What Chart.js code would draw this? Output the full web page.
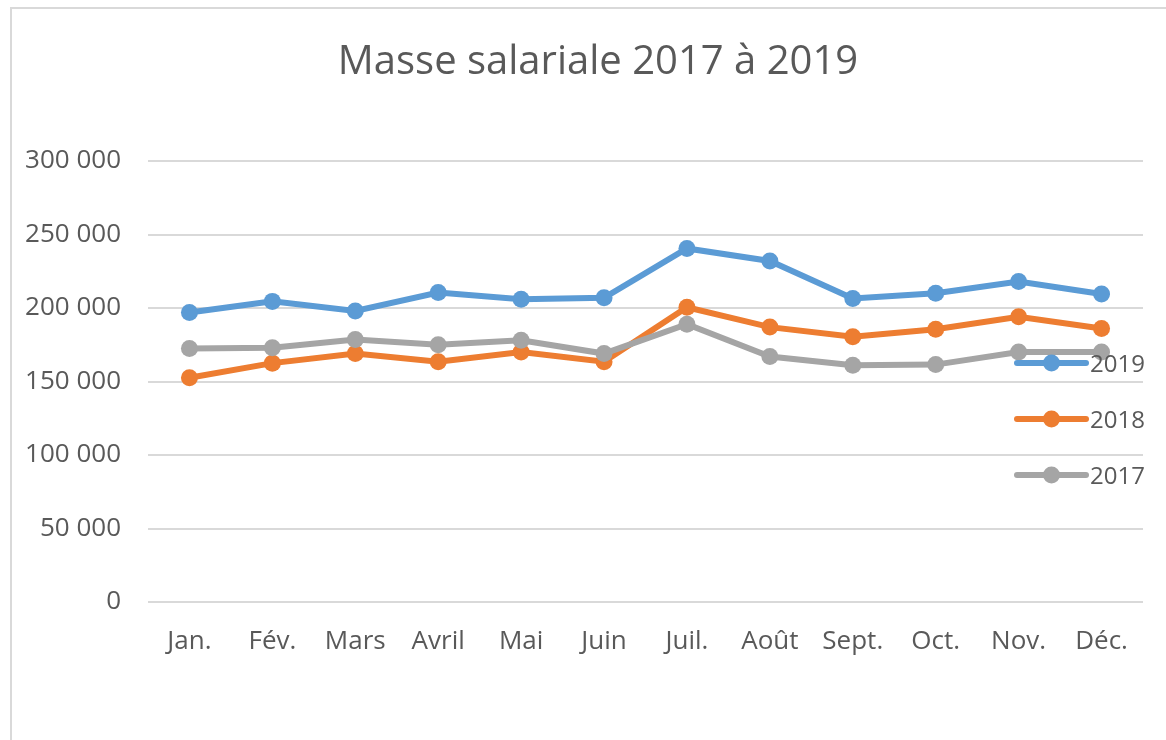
<!DOCTYPE html>
<html lang="fr">
<head>
<meta charset="utf-8">
<title>Masse salariale 2017 à 2019</title>
<script src="https://cdn.jsdelivr.net/npm/chart.js@4/dist/chart.umd.min.js"></script>
<style>
  html, body { margin: 0; padding: 0; background: #fff; overflow: hidden; }
  #frame {
    position: absolute;
    left: 10px;
    top: 7px;
    width: 1172px;
    height: 800px;
    border: 2px solid #d9d9d9;
    background: #fff;
  }
  #salaryChart { display: block; }
</style>
</head>
<body>
<div id="frame">
  <canvas id="salaryChart" width="1172" height="731"></canvas>
</div>
<script>
const months = ["Jan.", "Fév.", "Mars", "Avril", "Mai", "Juin", "Juil.", "Août", "Sept.", "Oct.", "Nov.", "Déc."];
const seriesLabels = ["2019", "2018", "2017"];

const values2019 = [197000, 204500, 198000, 210500, 206000, 207000, 240500, 232000, 206500, 210000, 218000, 209500];
const values2018 = [152500, 162500, 169000, 163500, 170000, 163500, 200500, 187000, 180500, 185500, 194000, 186000];
const values2017 = [172500, 173000, 178500, 175000, 178000, 169000, 189000, 167000, 161000, 161500, 170000, 170000];

const yTicks = [0, 50000, 100000, 150000, 200000, 250000, 300000];

const textColor = "#595959";
const fontFamily = "'Open Sans', 'Noto Sans', sans-serif";

// thousands with a space, like "150 000"
function formatNumber(v) {
  return String(v).replace(/\B(?=(\d{3})+(?!\d))/g, " ");
}

// legend drawn inside the plot, line + marker like the original
const lineLegend = {
  id: "lineLegend",
  afterDraw(chart) {
    const ctx = chart.ctx;
    const area = chart.chartArea;
    const x0 = area.right - 126;
    const x1 = area.right - 57;
    const firstY = area.top + 202;
    const step = 56;

    ctx.save();
    chart.data.datasets.forEach((ds, i) => {
      const y = firstY + i * step;
      ctx.strokeStyle = ds.borderColor;
      ctx.lineWidth = ds.borderWidth;
      ctx.lineCap = "round";
      ctx.beginPath();
      ctx.moveTo(x0, y);
      ctx.lineTo(x1, y);
      ctx.stroke();

      ctx.fillStyle = ds.pointBackgroundColor;
      ctx.beginPath();
      ctx.arc((x0 + x1) / 2, y, ds.pointRadius, 0, Math.PI * 2);
      ctx.fill();

      ctx.fillStyle = textColor;
      ctx.font = "24px " + fontFamily;
      ctx.textAlign = "left";
      ctx.textBaseline = "middle";
      ctx.fillText(ds.label, x1 + 4, y + 2);
    });
    ctx.restore();
  },
};

function makeDataset(label, data, color, order) {
  return {
    label: label,
    data: data,
    yAxisID: "y",
    borderColor: color,
    backgroundColor: color,
    pointBackgroundColor: color,
    pointBorderWidth: 0,
    pointRadius: 8.5,
    pointHoverRadius: 8.5,
    borderWidth: 6,
    tension: 0,
    order: order,
  };
}

const ctx = document.getElementById("salaryChart").getContext("2d");

new Chart(ctx, {
  type: "line",
  data: {
    labels: months,
    datasets: [
      makeDataset(seriesLabels[0], values2019, "#5b9bd5", 2),
      makeDataset(seriesLabels[1], values2018, "#ed7d31", 1),
      makeDataset(seriesLabels[2], values2017, "#a5a5a5", 0),
    ],
  },
  options: {
    responsive: false,
    animation: false,
    layout: {
      padding: { left: 0, right: 0, top: 0, bottom: 78 },
    },
    plugins: {
      legend: { display: false },
      tooltip: { enabled: false },
      title: {
        display: true,
        text: "Masse salariale 2017 à 2019",
        color: textColor,
        font: { family: fontFamily, size: 40, weight: "normal", lineHeight: 1.2 },
        padding: { top: 30, bottom: 74 },
      },
    },
    scales: {
      x: {
        offset: true,
        grid: { display: false, drawTicks: false },
        border: { display: false },
        ticks: {
          color: textColor,
          font: { family: fontFamily, size: 26 },
          padding: 24,
          maxRotation: 0,
          autoSkip: false,
        },
        afterFit(scale) {
          scale.height = 60;
        },
      },
      y: {
        min: 0,
        max: 300000,
        afterBuildTicks(scale) {
          scale.ticks = yTicks.map((v) => ({ value: v }));
        },
        grid: { color: "#d9d9d9", lineWidth: 2, drawTicks: false },
        border: { display: false },
        ticks: {
          color: textColor,
          font: { family: fontFamily, size: 26 },
          padding: 27,
          callback: (v) => formatNumber(v),
        },
        afterFit(scale) {
          scale.width = 136;
        },
      },
      // empty spacer on the right so the title stays centred on the frame
      spacer: {
        type: "linear",
        position: "right",
        grid: { display: false, drawTicks: false },
        border: { display: false },
        ticks: { display: false },
        afterFit(scale) {
          scale.width = 41;
        },
      },
    },
  },
  plugins: [lineLegend],
});
</script>
</body>
</html>
